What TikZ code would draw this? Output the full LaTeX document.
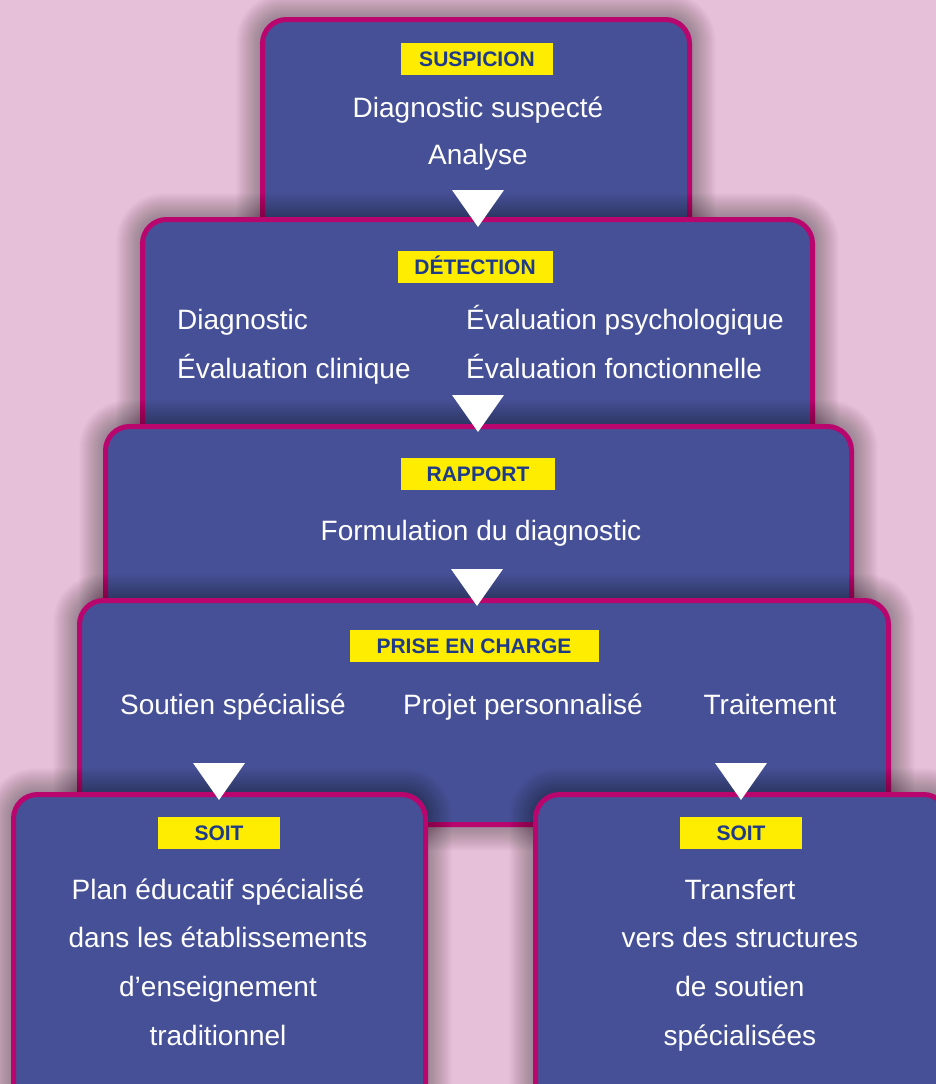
\documentclass[tikz,border=0pt]{standalone}
\usepackage{fontspec}
\setmainfont{Liberation Sans}
\definecolor{bgpink}{HTML}{E6C0D8}
\definecolor{boxblue}{HTML}{465096}
\definecolor{bordermag}{HTML}{B8066E}
\definecolor{labelyel}{HTML}{FFED00}
\definecolor{labeltxt}{HTML}{1E3A8A}
% soft glow shadow around a stage: #1,#2 = top-left, #3,#4 = bottom-right (outer edge)
\newcommand\stageglow[4]{%
  \foreach \k in {1,...,24}{%
    \pgfmathsetmacro\rr{24+\k}%
    \fill[black, fill opacity=0.011, rounded corners=\rr pt]
      (#1-\k,#2-\k) rectangle (#3+\k,#4+\k);}%
}
\begin{document}
\begin{tikzpicture}[x=1pt,y=-1pt,
  stage/.style={rectangle, draw=bordermag, line width=5pt, fill=boxblue,
    rounded corners=24pt, inner sep=0pt, outer sep=0pt, anchor=north west},
  tag/.style={rectangle, fill=labelyel, text=labeltxt, inner sep=0pt,
    minimum height=32pt, text height=15pt, text depth=0pt,
    font=\fontsize{21}{24}\selectfont\bfseries},
  body/.style={text=white, inner sep=0pt, anchor=base,
    font=\fontsize{28}{34}\selectfont},
  bodyl/.style={body, anchor=base west},
  pointer/.style={fill=white}]
\useasboundingbox (0,0) rectangle (936,1084);
\clip (0,0) rectangle (936,1084);
\fill[bgpink] (0,0) rectangle (936,1084);

% stages
\stageglow{260}{17}{692}{252}
\node[stage, minimum width=427pt, minimum height=230pt] (b1) at (262.5,19.5) {};
\stageglow{140}{217}{815}{452}
\node[stage, minimum width=670pt, minimum height=230pt] (b2) at (142.5,219.5) {};
\stageglow{103}{424}{854}{629}
\node[stage, minimum width=746pt, minimum height=200pt] (b3) at (105.5,426.5) {};
\stageglow{77}{598}{891}{827}
\node[stage, minimum width=809pt, minimum height=224pt] (b4) at (79.5,600.5) {};
\stageglow{11}{792}{428}{1127}
\node[stage, minimum width=412pt, minimum height=330pt] (b5) at (13.5,794.5) {};
\stageglow{533}{792}{950}{1127}
\node[stage, minimum width=412pt, minimum height=330pt] (b6) at (535.5,794.5) {};

% labels
\node[tag, minimum width=152pt] (l1) at (477,59) {SUSPICION};
\node[tag, minimum width=155pt] (l2) at (475,267) {DÉTECTION};
\node[tag, minimum width=154pt] (l3) at (478,474) {RAPPORT};
\node[tag, minimum width=249pt] (l4) at (474,646) {PRISE EN CHARGE};
\node[tag, minimum width=122pt] (l5) at (219,833) {SOIT};
\node[tag, minimum width=122pt] (l6) at (741,833) {SOIT};

% texts
\node[body] (s1) at (478,117) {Diagnostic suspecté};
\node[body] (s2) at (478,164) {Analyse};

\node[bodyl] (d1) at (177,329) {Diagnostic};
\node[bodyl] (d2) at (177,378) {Évaluation clinique};
\node[bodyl] (d3) at (466,329) {Évaluation psychologique};
\node[bodyl] (d4) at (466,378) {Évaluation fonctionnelle};

\node[body] (r1) at (481,540) {Formulation du diagnostic};

\node[body] (p1) at (233,714) {Soutien spécialisé};
\node[body] (p2) at (523,714) {Projet personnalisé};
\node[body] (p3) at (770,714) {Traitement};

\node[body] (e1) at (218,899) {Plan éducatif spécialisé};
\node[body] (e2) at (218,947.5) {dans les établissements};
\node[body] (e3) at (218,996) {d’enseignement};
\node[body] (e4) at (218,1045) {traditionnel};

\node[body] (f1) at (740,899) {Transfert};
\node[body] (f2) at (740,947.5) {vers des structures};
\node[body] (f3) at (740,996) {de soutien};
\node[body] (f4) at (740,1045) {spécialisées};

% pointers
\fill[pointer] (452,190) -- (504,190) -- (478,227) -- cycle;
\fill[pointer] (452,395) -- (504,395) -- (478,432) -- cycle;
\fill[pointer] (451,569) -- (503,569) -- (477,606) -- cycle;
\fill[pointer] (193,763) -- (245,763) -- (219,800) -- cycle;
\fill[pointer] (715,763) -- (767,763) -- (741,800) -- cycle;
\end{tikzpicture}
\end{document}
